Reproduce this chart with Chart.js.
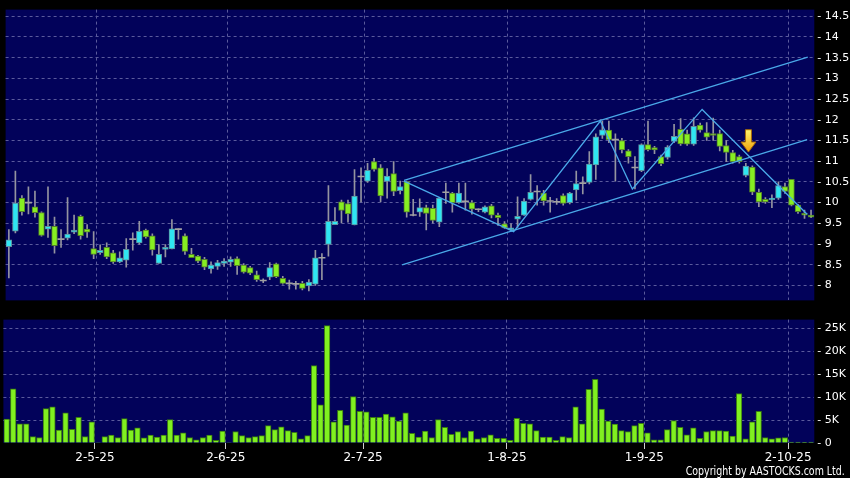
<!DOCTYPE html>
<html>
<head>
<meta charset="utf-8">
<title>Daily chart</title>
<script src="https://cdn.jsdelivr.net/npm/chart.js@4/dist/chart.umd.min.js"></script>
<style>
  html, body { margin: 0; padding: 0; background: #000; }
  #wrap { position: relative; width: 850px; height: 478px; overflow: hidden; background: #000; }
  #price { position: absolute; left: 0; top: 0; }
  #vol { position: absolute; left: 0; top: 310px; }
  #copy {
    position: absolute; right: 5px; top: 464px;
    color: #fff; white-space: nowrap; line-height: 14px;
    font: 12px 'DejaVu Sans Condensed', 'DejaVu Sans', sans-serif;
    transform: scaleX(0.875); transform-origin: right center;
  }
</style>
</head>
<body>
<div id="wrap">
  <canvas id="price" width="850" height="310"></canvas>
  <canvas id="vol" width="850" height="168"></canvas>
  <div id="copy">Copyright by AASTOCKS.com Ltd.</div>
</div>

<script>
// ═══════════════════════════════════════════
// Daily candlestick + volume, Apr–Oct 2025
// ═══════════════════════════════════════════

// ── Price data (one entry per trading day) ──
const opens = [
  8.94, 9.31, 10.11, 10.00, 9.90, 9.76, 9.36, 9.43, 9.12, 9.14,
  9.29, 9.67, 9.36, 8.89, 8.79, 8.92, 8.79, 8.57, 8.61, 9.12,
  9.03, 9.34, 9.20, 8.53, 8.87, 8.88, 9.36, 9.20, 8.75, 8.71,
  8.63, 8.40, 8.46, 8.53, 8.56, 8.65, 8.49, 8.43, 8.26, 8.12,
  8.20, 8.52, 8.17, 8.05, 8.04, 8.05, 7.99, 8.03, 8.67, 8.99,
  9.47, 10.02, 9.98, 9.46, 10.63, 10.52, 10.99, 10.84, 10.51, 10.70,
  10.29, 10.51, 9.70, 9.77, 9.88, 9.86, 9.53, 10.25, 10.23, 10.00,
  10.03, 10.00, 9.84, 9.77, 9.92, 9.70, 9.49, 9.34, 9.60, 9.70,
  10.08, 10.27, 10.23, 10.04, 10.02, 10.17, 10.00, 10.31, 10.47, 10.49,
  10.91, 11.62, 11.75, 11.52, 11.50, 11.25, 10.85, 10.77, 11.40, 11.33,
  11.11, 11.09, 11.48, 11.77, 11.66, 11.41, 11.87, 11.69, 11.67, 11.67,
  11.38, 11.21, 11.11, 10.66, 10.86, 10.25, 10.08, 10.07, 10.11, 10.39,
  10.56, 9.94, 9.74, 9.70
];
const closes = [
  9.10, 9.99, 9.78, 10.00, 9.76, 9.21, 9.43, 8.96, 9.12, 9.24,
  9.34, 9.20, 9.29, 8.75, 8.85, 8.69, 8.57, 8.67, 8.87, 9.12,
  9.31, 9.17, 8.86, 8.75, 8.92, 9.37, 9.36, 8.82, 8.67, 8.59,
  8.44, 8.49, 8.55, 8.59, 8.63, 8.48, 8.32, 8.30, 8.14, 8.12,
  8.43, 8.21, 8.05, 8.05, 8.04, 7.93, 8.08, 8.67, 8.67, 9.55,
  9.55, 9.81, 9.73, 10.16, 10.63, 10.78, 10.80, 10.16, 10.64, 10.27,
  10.39, 9.77, 9.70, 9.88, 9.74, 9.57, 10.11, 10.25, 10.00, 10.23,
  10.03, 9.84, 9.84, 9.90, 9.70, 9.64, 9.39, 9.39, 9.67, 10.04,
  10.25, 10.27, 10.04, 10.04, 10.02, 9.98, 10.23, 10.46, 10.47, 10.93,
  11.59, 11.76, 11.52, 11.52, 11.27, 11.11, 10.85, 11.40, 11.28, 11.27,
  10.94, 11.34, 11.60, 11.42, 11.41, 11.84, 11.75, 11.58, 11.62, 11.36,
  11.21, 10.99, 10.99, 10.88, 10.25, 10.02, 10.02, 10.11, 10.41, 10.27,
  9.94, 9.78, 9.70, 9.65
];
const highs = [
  9.35, 10.76, 10.17, 10.38, 10.28, 9.78, 10.38, 9.65, 9.35, 10.12,
  9.70, 9.70, 9.47, 9.30, 8.98, 9.03, 8.85, 8.81, 9.13, 9.27,
  9.55, 9.36, 9.25, 8.99, 8.99, 9.59, 9.37, 9.25, 8.90, 8.73,
  8.68, 8.57, 8.61, 8.65, 8.69, 8.69, 8.53, 8.46, 8.35, 8.16,
  8.55, 8.54, 8.22, 8.13, 8.10, 8.10, 8.14, 8.85, 8.77, 10.41,
  9.88, 10.06, 10.06, 10.80, 10.84, 10.95, 11.07, 10.92, 10.82, 10.99,
  10.52, 10.52, 10.08, 10.09, 9.94, 9.94, 10.12, 10.47, 10.25, 10.47,
  10.47, 10.05, 9.85, 9.92, 9.96, 9.75, 9.54, 9.49, 10.14, 10.10,
  10.68, 10.41, 10.30, 10.13, 10.10, 10.21, 10.25, 10.76, 10.62, 11.23,
  11.66, 11.97, 11.97, 11.66, 11.55, 11.28, 11.11, 11.42, 11.97, 11.36,
  11.15, 11.38, 11.89, 12.03, 11.75, 12.05, 11.92, 11.93, 12.04, 11.75,
  11.50, 11.26, 11.15, 10.95, 10.89, 10.33, 10.12, 10.19, 10.50, 10.47,
  10.56, 9.96, 9.82, 9.82
];
const lows = [
  8.18, 9.27, 9.70, 9.73, 9.65, 9.19, 9.16, 8.78, 8.92, 9.10,
  9.25, 9.12, 9.16, 8.65, 8.75, 8.65, 8.53, 8.55, 8.44, 8.85,
  9.00, 9.14, 8.73, 8.53, 8.69, 8.88, 9.12, 8.75, 8.67, 8.55,
  8.38, 8.30, 8.39, 8.46, 8.46, 8.27, 8.30, 8.26, 8.10, 8.07,
  8.14, 8.19, 8.03, 7.91, 7.91, 7.89, 7.87, 8.00, 8.14, 8.71,
  9.47, 9.51, 9.53, 9.46, 10.02, 10.49, 10.76, 10.02, 10.11, 10.17,
  10.21, 9.65, 9.68, 9.67, 9.34, 9.51, 9.42, 9.98, 9.77, 9.98,
  9.82, 9.72, 9.78, 9.75, 9.63, 9.45, 9.38, 9.31, 9.40, 9.69,
  10.06, 9.94, 9.94, 9.77, 9.96, 9.94, 9.97, 10.06, 10.21, 10.45,
  10.56, 11.55, 11.45, 10.52, 11.20, 10.95, 10.33, 10.75, 11.25, 11.18,
  10.89, 11.05, 11.45, 11.38, 11.38, 11.38, 11.70, 11.50, 11.50, 11.25,
  10.99, 10.95, 10.95, 10.62, 10.19, 9.90, 9.98, 9.88, 10.08, 10.22,
  9.92, 9.74, 9.62, 9.64
];

// ── Volume (shares) ──
const volumes = [
  5200, 11800, 4200, 4200, 1400, 1200, 7500, 7900, 2800, 6600,
  3000, 5600, 1400, 4600, 100, 1400, 1700, 1200, 5300, 2800,
  3300, 1100, 1700, 1300, 1700, 5100, 1700, 2200, 1200, 700,
  1200, 1700, 600, 2600, 100, 2500, 1600, 1200, 1400, 1600,
  3800, 2900, 3500, 2700, 2300, 900, 1600, 16900, 8300, 25600,
  4600, 7100, 3900, 10100, 6900, 6800, 5600, 5600, 6300, 5700,
  4800, 6600, 2100, 1300, 2600, 1200, 5100, 3400, 1900, 2500,
  1200, 2600, 900, 1200, 1800, 1000, 1000, 600, 5400, 4300,
  4200, 2700, 1300, 1300, 600, 1400, 1200, 7900, 4200, 11700,
  13900, 7400, 4800, 4100, 2700, 2500, 3800, 4300, 2200, 700,
  700, 2900, 4900, 3400, 1800, 3300, 1000, 2500, 2700, 2700,
  2600, 1500, 10800, 900, 4600, 6900, 1200, 900, 1100, 1200,
  200, 200, 50, 200
];

// ── Axes ──
const days = opens.map((_, i) => i);               // category slots
const monthStarts = [14, 34, 55, 77, 98, 120];     // first session of each month
const monthLabels = ['2-5-25', '2-6-25', '2-7-25', '1-8-25', '1-9-25', '2-10-25'];
const priceTicks = [8, 8.5, 9, 9.5, 10, 10.5, 11, 11.5, 12, 12.5, 13, 13.5, 14, 14.5];
const volumeTicks = [0, 5000, 10000, 15000, 20000, 25000];

// ── Drawn trend lines: [session index, price] ──
const upperChannel = [[60.6, 10.54], [122.5, 13.51]];
const lowerChannel = [[60.3, 8.50], [122.4, 11.52]];
const zigzag = [[60.6, 10.52], [77.4, 9.30], [90.7, 11.97], [95.6, 10.33], [106.3, 12.25], [122.4, 9.72]];
const arrowAt = [113.4, 11.22, 11.76];             // index, tip price, tail price

// ── Colours ──
const NAVY = '#02025a';
const GRID = '#5a5a9c';
const UP = '#2fe6f2', UP_EDGE = '#5f8e9c';
const DOWN = '#86ee22', DOWN_EDGE = '#55802a';
const DOJI = '#a2a2a2', WICK = '#9494a0';
const TREND = '#4aa8e8';
const VOL = '#80f020', VOL_EDGE = '#3a7a12';

Chart.defaults.font.family = "'DejaVu Sans', sans-serif";
Chart.defaults.animation = false;

const PLOT_LEFT = 3.4;
const AXIS_W = 850 - 814.3;

// ── Plot background ──
const plotBg = {
  id: 'plotBg',
  beforeDraw(chart) {
    const { ctx, chartArea: a } = chart;
    ctx.save();
    ctx.fillStyle = NAVY;
    ctx.fillRect(a.left, a.top, a.right - a.left, a.bottom - a.top);
    ctx.restore();
  }
};

// ── Down arrow marker ──
const arrowMark = {
  id: 'arrowMark',
  afterDatasetsDraw(chart) {
    const { ctx } = chart;
    const xs = chart.scales.x, ys = chart.scales.y;
    const cx = xs.getPixelForValue(arrowAt[0]);
    const tip = ys.getPixelForValue(arrowAt[1]);
    const top = ys.getPixelForValue(arrowAt[2]);
    const headTop = tip - (tip - top) * 0.45;
    const g = ctx.createLinearGradient(0, top, 0, tip);
    g.addColorStop(0, '#fff36a');
    g.addColorStop(1, '#f0a00a');
    ctx.save();
    ctx.beginPath();
    ctx.moveTo(cx - 3, top);
    ctx.lineTo(cx + 3, top);
    ctx.lineTo(cx + 3, headTop);
    ctx.lineTo(cx + 7.5, headTop);
    ctx.lineTo(cx, tip);
    ctx.lineTo(cx - 7.5, headTop);
    ctx.lineTo(cx - 3, headTop);
    ctx.closePath();
    ctx.fillStyle = g;
    ctx.fill();
    ctx.strokeStyle = '#a86a08';
    ctx.lineWidth = 1;
    ctx.stroke();
    ctx.restore();
  }
};

const monthGrid = ctx => monthStarts.includes(ctx.index) ? GRID : 'transparent';

// trend lines sit between sessions, so they skip parsing and use the
// category scale's fractional positions directly
function trendLine(points) {
  return {
    type: 'line',
    parsing: false,
    data: points.map(([x, y]) => ({ x, y })),
    borderColor: TREND,
    borderWidth: 1.3,
    pointRadius: 0,
    tension: 0,
    order: 0,
  };
}

// ── Price chart ──
new Chart(document.getElementById('price'), {
  type: 'bar',
  data: {
    labels: days,
    datasets: [
      {
        data: lows.map((l, i) => [l, highs[i]]),
        backgroundColor: WICK,
        barThickness: 1,
        grouped: false,
        order: 3,
      },
      {
        data: opens.map((o, i) => o === closes[i] ? null : [o, closes[i]]),
        backgroundColor: opens.map((o, i) => closes[i] > o ? UP : DOWN),
        borderColor: opens.map((o, i) => closes[i] > o ? UP_EDGE : DOWN_EDGE),
        borderWidth: 1,
        borderSkipped: false,
        barThickness: 5.8,
        grouped: false,
        order: 2,
      },
      {
        type: 'line',
        data: opens.map((o, i) => o === closes[i] ? o : null),
        showLine: false,
        pointStyle: 'line',
        pointRadius: 3.5,
        pointBorderColor: DOJI,
        pointBackgroundColor: DOJI,
        pointBorderWidth: 1.6,
        order: 1,
      },
      trendLine(upperChannel),
      trendLine(lowerChannel),
      trendLine(zigzag),
    ]
  },
  options: {
    responsive: false,
    events: [],
    layout: { padding: { left: PLOT_LEFT, right: 0, top: 5, bottom: 5 } },
    plugins: { legend: { display: false }, tooltip: { enabled: false } },
    scales: {
      x: {
        offset: true,
        ticks: { display: false, autoSkip: false },
        grid: { offset: true, color: monthGrid, drawTicks: false },
        border: { display: false, dash: [3, 3] },
        afterFit: s => { s.height = 0; },
      },
      y: {
        position: 'right',
        min: 7.64,
        max: 14.66,
        afterBuildTicks: s => { s.ticks = priceTicks.map(v => ({ value: v })); },
        afterFit: s => { s.width = AXIS_W; },
        ticks: { color: '#fff', font: { size: 11 }, padding: 3, callback: v => '- ' + v },
        grid: { color: GRID, drawTicks: false },
        border: { display: false, dash: [3, 3] },
      }
    }
  },
  plugins: [plotBg, arrowMark]
});

// ── Volume chart ──
new Chart(document.getElementById('vol'), {
  type: 'bar',
  data: {
    labels: days,
    datasets: [{
      data: volumes,
      backgroundColor: VOL,
      borderColor: VOL_EDGE,
      borderWidth: 1,
      borderSkipped: 'start',
      barThickness: 5.6,
    }]
  },
  options: {
    responsive: false,
    events: [],
    layout: { padding: { left: PLOT_LEFT, right: 0, top: 9, bottom: 0 } },
    plugins: { legend: { display: false }, tooltip: { enabled: false } },
    scales: {
      x: {
        offset: true,
        ticks: {
          autoSkip: false,
          maxRotation: 0,
          color: '#fff',
          font: { size: 12 },
          padding: 2,
          labelOffset: -3.27,
          callback: (v, i) => {
            const k = monthStarts.indexOf(i);
            return k < 0 ? '' : monthLabels[k];
          }
        },
        grid: {
          offset: true,
          color: monthGrid,
          tickColor: ctx => monthStarts.includes(ctx.index) ? '#cfcfcf' : 'transparent',
          tickLength: 6,
        },
        border: { display: false, dash: [3, 3] },
        afterFit: s => { s.height = 35; },
      },
      y: {
        position: 'right',
        min: 0,
        max: 26900,
        afterBuildTicks: s => { s.ticks = volumeTicks.map(v => ({ value: v })); },
        afterFit: s => { s.width = AXIS_W; },
        ticks: {
          color: '#fff',
          font: { size: 11 },
          padding: 3,
          callback: v => '- ' + (v === 0 ? '0' : v / 1000 + 'K')
        },
        grid: { color: ctx => (ctx.tick && ctx.tick.value === 0) ? 'transparent' : GRID, drawTicks: false },
        border: { display: false, dash: [3, 3] },
      }
    }
  },
  plugins: [plotBg]
});
</script>
</body>
</html>
